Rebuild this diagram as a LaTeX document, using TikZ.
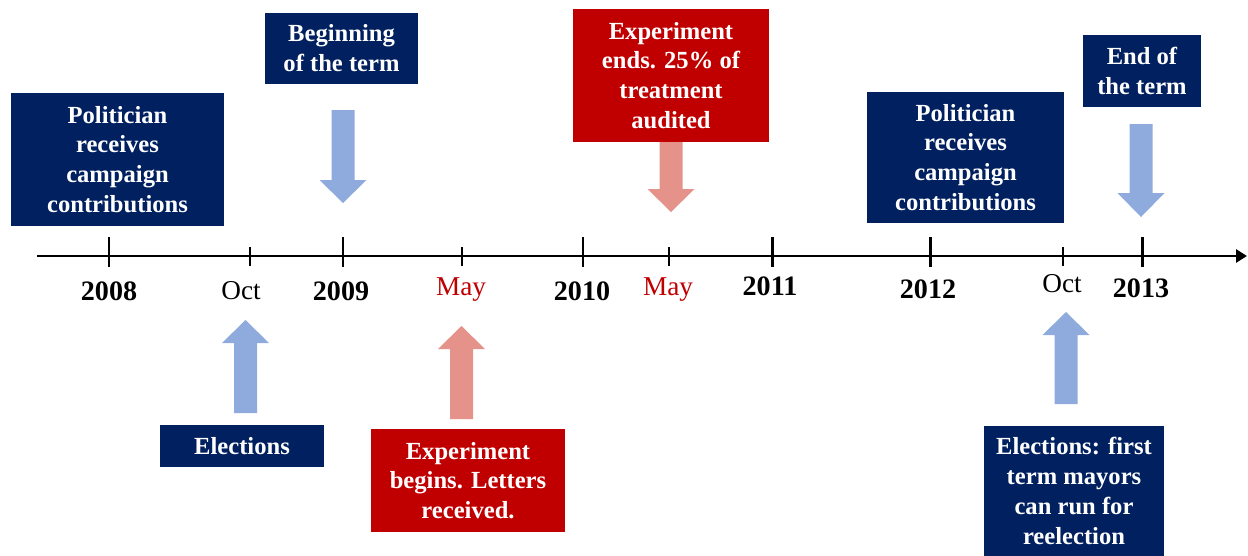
\documentclass[tikz,border=0pt]{standalone}
\usepackage{fontspec}
\setmainfont{Liberation Serif}
\usetikzlibrary{arrows.meta, positioning}

\definecolor{navy}{HTML}{002060}
\definecolor{darkred}{HTML}{C00000}
\definecolor{lightblue}{HTML}{8FAADC}
\definecolor{salmon}{HTML}{E4928A}

% block arrow: colour, x, start of shaft, start of head, tip
\newcommand{\blockarrow}[5]{%
    \fill[#1] (#2-11.5,#3) -- (#2+11.5,#3) -- (#2+11.5,#4) -- (#2+23.5,#4)
        -- (#2,#5) -- (#2-23.5,#4) -- (#2-11.5,#4) -- cycle;}

\begin{document}
\begin{tikzpicture}[
    x=0.02cm, y=-0.02cm,
    event/.style={
        rectangle,
        fill=navy,
        text=white,
        font=\fontsize{14}{17}\selectfont\bfseries,
        align=center,
        inner sep=0pt
    },
    redevent/.style={
        event,
        fill=darkred
    },
    year/.style={
        anchor=base,
        font=\fontsize{16}{19}\selectfont\bfseries
    },
    month/.style={
        anchor=base,
        font=\fontsize{15.5}{18}\selectfont
    },
    axis/.style={
        line width=1.7pt,
        -{Triangle[length=0.22cm, width=0.26cm]}
    },
    major/.style={line width=1.7pt},
    minor/.style={line width=1.2pt}
]
    \useasboundingbox (0,0) rectangle (1248,555);

    % time axis
    \coordinate (start) at (37,256);
    \coordinate (end) at (1247,256);
    \draw[axis] (start) -- (end);

    % ticks for the years and for the months
    \foreach \x in {109,343,583,772,930,1142}
        \draw[major] (\x,237) -- (\x,267);
    \foreach \x in {250,462,669,1063}
        \draw[minor] (\x,247) -- (\x,266);

    % labels under the axis
    \node (y2008) [year] at (109,300) {2008};
    \node (oct1) [month] at (241,299) {Oct};
    \node (y2009) [year] at (341,300) {2009};
    \node (may1) [month, text=darkred] at (461,295) {May};
    \node (y2010) [year] at (582,300) {2010};
    \node (may2) [month, text=darkred] at (668,295) {May};
    \node (y2011) [year] at (770,295) {2011};
    \node (y2012) [year] at (928,298) {2012};
    \node (oct2) [month] at (1062,292) {Oct};
    \node (y2013) [year] at (1141,297) {2013};

    % events above the axis
    \node (contrib1) [event, minimum width=4.26cm, minimum height=2.66cm] at (117.5,159.5)
        {Politician\\receives\\campaign\\contributions};
    \node (begin) [event, minimum width=3.06cm, minimum height=1.42cm] at (341.5,48.5)
        {Beginning\\of the term};
    \node (expend) [redevent, minimum width=3.92cm, minimum height=2.66cm] at (671,75.5)
        {Experiment\\ends. 25\% of\\treatment\\audited};
    \node (contrib2) [event, minimum width=3.94cm, minimum height=2.62cm] at (965.5,157.5)
        {Politician\\receives\\campaign\\contributions};
    \node (termend) [event, minimum width=2.36cm, minimum height=1.44cm] at (1142,71)
        {End of\\the term};

    % events below the axis
    \node (elect1) [event, minimum width=3.28cm, minimum height=0.84cm] at (242,446)
        {Elections};
    \node (expbegin) [redevent, minimum width=3.88cm, minimum height=2.06cm] at (468,480.5)
        {Experiment\\begins. Letters\\received.};
    \node (elect2) [event, minimum width=3.6cm, minimum height=2.6cm] at (1074,491)
        {Elections: first\\term mayors\\can run for\\reelection};

    % block arrows pointing at the axis
    \blockarrow{lightblue}{343}{110}{180}{203}
    \blockarrow{salmon}{671}{142}{189}{212}
    \blockarrow{lightblue}{1141}{124}{193}{217}
    \blockarrow{lightblue}{245.5}{413}{343}{320}
    \blockarrow{salmon}{461.5}{419}{349}{326}
    \blockarrow{lightblue}{1066}{404}{335}{312}
\end{tikzpicture}
\end{document}
